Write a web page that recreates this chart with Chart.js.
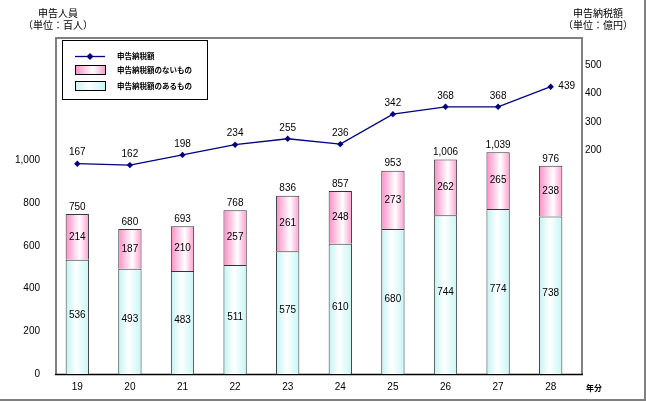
<!DOCTYPE html>
<html>
<head>
<meta charset="utf-8">
<script src="https://cdn.jsdelivr.net/npm/chart.js@4/dist/chart.umd.min.js"></script>
<style>
html,body{margin:0;padding:0;background:#fff;}
#wrap{position:relative;width:646px;height:402px;}
canvas{display:block;}
</style>
</head>
<body>
<div id="wrap"><canvas id="c" width="646" height="402"></canvas></div>
<script>
const categories = ['19','20','21','22','23','24','25','26','27','28'];
const withTax = [536,493,483,511,575,610,680,744,774,738];
const withoutTax = [214,187,210,257,261,248,273,262,265,238];
const totals = [750,680,693,768,836,857,953,1006,1039,976];
const taxAmount = [167,162,198,234,255,236,342,368,368,439];
const leftTicks = [0,200,400,600,800,1000];
const rightTicks = [200,300,400,500];

const JP = '"Noto Sans CJK JP", "Noto Sans", sans-serif';
const NUM = '"Liberation Sans", Arial, sans-serif';
const BAR_PCT = 0.443;

function barGradient(ctx, stops) {
  const chart = ctx.chart;
  if (!chart.chartArea) return stops[0][1];
  const xs = chart.scales.x;
  const cx = xs.getPixelForValue(ctx.dataIndex);
  const w = (xs.width / categories.length) * BAR_PCT;
  const g = chart.ctx.createLinearGradient(cx - w / 2, 0, cx + w / 2, 0);
  stops.forEach(s => g.addColorStop(s[0], s[1]));
  return g;
}
const cyanStops = [[0,'#c2f2f2'],[0.45,'#ffffff'],[1,'#c6f6f6']];
const pinkStops = [[0,'#ff8cc6'],[0.6,'#ffffff'],[1,'#ff9ccf']];

const decor = {
  id: 'decor',
  beforeDatasetsDraw(chart) {
    const c = chart.ctx;
    c.save();
    c.strokeStyle = '#808080';
    c.lineWidth = 2;
    c.beginPath();
    c.moveTo(56, 374); c.lineTo(56, 38); c.lineTo(582, 38); c.lineTo(582, 374);
    c.stroke();
    c.strokeStyle = '#000';
    c.lineWidth = 1.5;
    c.beginPath(); c.moveTo(55, 374.5); c.lineTo(583, 374.5); c.stroke();
    // outer shadow border
    c.strokeStyle = '#808080';
    c.lineWidth = 2;
    c.beginPath(); c.moveTo(0, 400); c.lineTo(645, 400); c.lineTo(645, 0); c.stroke();
    c.restore();
  },
  afterDatasetsDraw(chart) {
    const c = chart.ctx;
    const xs = chart.scales.x, yl = chart.scales.y, yr = chart.scales.y1;
    c.save();
    c.fillStyle = '#000';
    c.font = '10px ' + NUM;
    c.textAlign = 'center';
    c.textBaseline = 'middle';
    categories.forEach((cat, i) => {
      const x = xs.getPixelForValue(i);
      const yb = yl.getPixelForValue(withTax[i]);
      const y0 = yl.getPixelForValue(0);
      const yt = yl.getPixelForValue(withTax[i] + withoutTax[i]);
      c.fillText(String(withTax[i]), x, (y0 + yb) / 2 - 2);
      c.fillText(String(withoutTax[i]), x, (yb + yt) / 2);
      c.fillText(totals[i].toLocaleString('en-US'), x, yt - 7);
      const py = yr.getPixelForValue(taxAmount[i]);
      if (i === categories.length - 1) {
        c.fillText(String(taxAmount[i]), x + 16, py);
      } else {
        c.fillText(String(taxAmount[i]), x, py - 11);
      }
    });
    // titles
    c.font = '10px ' + JP;
    c.fillText('申告人員', 58, 13);
    c.fillText('（単位：百人）', 58, 25);
    c.fillText('申告納税額', 598, 13);
    c.fillText('（単位：億円）', 598, 25);
    c.font = 'bold 8px ' + JP;
    c.fillText('年分', 594, 388);
    // legend
    c.fillStyle = '#fff';
    c.fillRect(62.5, 40.5, 145, 59);
    c.strokeStyle = '#000';
    c.lineWidth = 1;
    c.strokeRect(62.5, 40.5, 145, 59);
    c.strokeStyle = '#000080';
    c.lineWidth = 1.3;
    c.beginPath(); c.moveTo(75, 56.5); c.lineTo(105, 56.5); c.stroke();
    c.fillStyle = '#000080';
    c.beginPath(); c.moveTo(90, 53); c.lineTo(93.5, 56.5); c.lineTo(90, 60); c.lineTo(86.5, 56.5); c.closePath(); c.fill();
    function box(y, stops) {
      const g = c.createLinearGradient(75, 0, 105, 0);
      stops.forEach(s => g.addColorStop(s[0], s[1]));
      c.fillStyle = g;
      c.fillRect(75.5, y + 0.5, 30, 9);
      c.strokeStyle = '#000';
      c.lineWidth = 1;
      c.strokeRect(75.5, y + 0.5, 30, 9);
    }
    box(65, pinkStops);
    box(81, cyanStops);
    c.fillStyle = '#000';
    c.textAlign = 'left';
    c.font = 'bold 7.5px ' + JP;
    c.fillText('申告納税額', 117, 56.5);
    c.fillText('申告納税額のないもの', 117, 70);
    c.fillText('申告納税額のあるもの', 117, 86);
    c.restore();
  }
};

new Chart(document.getElementById('c'), {
  data: {
    labels: categories,
    datasets: [
      {
        type: 'line', label: '申告納税額', data: taxAmount, yAxisID: 'y1', order: 0,
        borderColor: '#000080', borderWidth: 1.3, backgroundColor: '#000080',
        pointStyle: 'rectRot', pointRadius: 3.2, pointBorderWidth: 0, tension: 0
      },
      {
        type: 'bar', label: '申告納税額のあるもの', data: withTax, yAxisID: 'y', stack: 's', order: 1,
        backgroundColor: ctx => barGradient(ctx, cyanStops),
        borderColor: '#333', borderWidth: 1, barPercentage: BAR_PCT, categoryPercentage: 1
      },
      {
        type: 'bar', label: '申告納税額のないもの', data: withoutTax, yAxisID: 'y', stack: 's', order: 2,
        backgroundColor: ctx => barGradient(ctx, pinkStops),
        borderColor: '#333', borderWidth: 1, barPercentage: BAR_PCT, categoryPercentage: 1
      }
    ]
  },
  options: {
    responsive: false,
    animation: false,
    devicePixelRatio: 1,
    layout: { padding: { top: 38, left: 0, right: 0, bottom: 0 } },
    plugins: { legend: { display: false }, tooltip: { enabled: false } },
    scales: {
      x: {
        offset: true,
        grid: { display: false, drawTicks: false },
        border: { display: false },
        ticks: { color: '#000', font: { size: 10, family: NUM }, padding: 7, maxRotation: 0 },
        afterFit(s) { s.height = 28; }
      },
      y: {
        position: 'left', stacked: true, min: 0, max: 1575,
        grid: { display: false, drawTicks: false },
        border: { display: false },
        afterBuildTicks(s) { s.ticks = leftTicks.map(v => ({ value: v })); },
        ticks: { color: '#000', font: { size: 10, family: NUM }, padding: 11,
          callback: v => Number(v).toLocaleString('en-US') },
        afterFit(s) { s.width = 51; }
      },
      y1: {
        position: 'right', min: -576, max: 611,
        grid: { display: false, drawTicks: false },
        border: { display: false },
        afterBuildTicks(s) { s.ticks = rightTicks.map(v => ({ value: v })); },
        ticks: { color: '#000', font: { size: 10, family: NUM }, padding: 8, labelOffset: -4,
          callback: v => String(v) },
        afterFit(s) { s.width = 69; }
      }
    }
  },
  plugins: [decor]
});
</script>
</body>
</html>
